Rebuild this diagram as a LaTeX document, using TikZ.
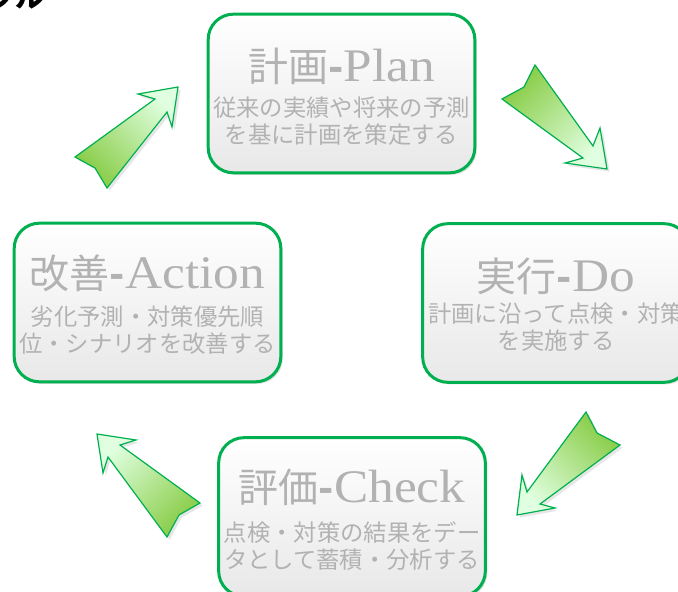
\documentclass[tikz,border=0pt]{standalone}
\usepackage{fontspec}
\usepackage{tikz}
\usetikzlibrary{shadows}
\newfontfamily\jp{Noto Sans CJK JP}
\newfontfamily\lat[FakeStretch=1.1]{Liberation Serif}
\definecolor{boxgreen}{RGB}{0,176,80}
\definecolor{arrowgreen}{RGB}{136,204,70}
\definecolor{txtgray}{RGB}{178,178,178}
\tikzset{
  cyclebox/.style={draw=boxgreen, line width=2.25pt, rounded corners=19pt,
    top color=white, bottom color=black!9, minimum width=200pt, minimum height=119pt,
    drop shadow={shadow xshift=1.5pt, shadow yshift=-1.5pt, opacity=0.25}},
  ttl/.style={text=txtgray, inner sep=0pt, font=\jp\fontsize{30}{30}\selectfont},
  body/.style={text=txtgray, inner sep=0pt, align=center, font=\jp\fontsize{17.5}{20}\selectfont},
  fatarrow/.style={draw=boxgreen, line width=0.9pt, line join=miter,
    drop shadow={shadow xshift=2pt, shadow yshift=-2pt, opacity=0.2}}
}
\newcommand{\lt}[1]{{\lat\fontsize{35}{35}\selectfont #1}}
\newcommand{\dsh}{{\bfseries -}}
\begin{document}
\begin{tikzpicture}[x=0.75pt,y=-0.75pt]
\useasboundingbox (0,0) rectangle (678,592);
\clip (0,0) rectangle (678,592);

\node[anchor=base east, inner sep=0pt, font=\jp\bfseries\fontsize{21}{21}\selectfont] (heading) at (44,8) {クル};

\draw[fatarrow, left color=arrowgreen, right color=green!12, shading angle=45]
  (535,65) -- (593,146) -- (600,128) -- (607,169) -- (565,163) -- (583,158) -- (502,99) -- (524,87) -- cycle;
\draw[fatarrow, left color=arrowgreen, right color=green!12, shading angle=-45]
  (586,412) -- (597,433) -- (620,445) -- (540,504) -- (555,508) -- (517,515) -- (522,475) -- (527,492) -- cycle;
\draw[fatarrow, left color=green!12, right color=arrowgreen, shading angle=-45]
  (75,157) -- (95,168) -- (107,188) -- (167,112) -- (172,127) -- (178,87) -- (138,94) -- (155,99) -- cycle;
\draw[fatarrow, left color=green!12, right color=arrowgreen, shading angle=45]
  (200,503) -- (179,515) -- (167,537) -- (108,457) -- (103,473) -- (97,434) -- (136,440) -- (120,445) -- cycle;

\node[cyclebox] (plan) at (341.5,93.5) {};
\node[cyclebox] (do) at (556,303) {};
\node[cyclebox] (check) at (352,517) {};
\node[cyclebox] (act) at (147.5,302.5) {};

\node[ttl] (plan-t) at ([yshift=20pt]plan.center) {計画\dsh\lt{Plan}};
\node[body] (plan-b) at ([yshift=-21pt]plan.center) {従来の実績や将来の予測\\を基に計画を策定する};
\node[ttl] (do-t) at ([yshift=20pt]do.center) {実行\dsh\lt{Do}};
\node[body] (do-b) at ([yshift=-18pt]do.center) {計画に沿って点検・対策\\を実施する};
\node[ttl] (check-t) at ([yshift=22pt]check.center) {評価\dsh\lt{Check}};
\node[body] (check-b) at ([yshift=-22pt]check.center) {点検・対策の結果をデー\\タとして蓄積・分析する};
\node[ttl] (act-t) at ([yshift=22pt]act.center) {改善\dsh\lt{Action}};
\node[body] (act-b) at ([yshift=-20.5pt]act.center) {劣化予測・対策優先順\\位・シナリオを改善する};
\end{tikzpicture}
\end{document}
